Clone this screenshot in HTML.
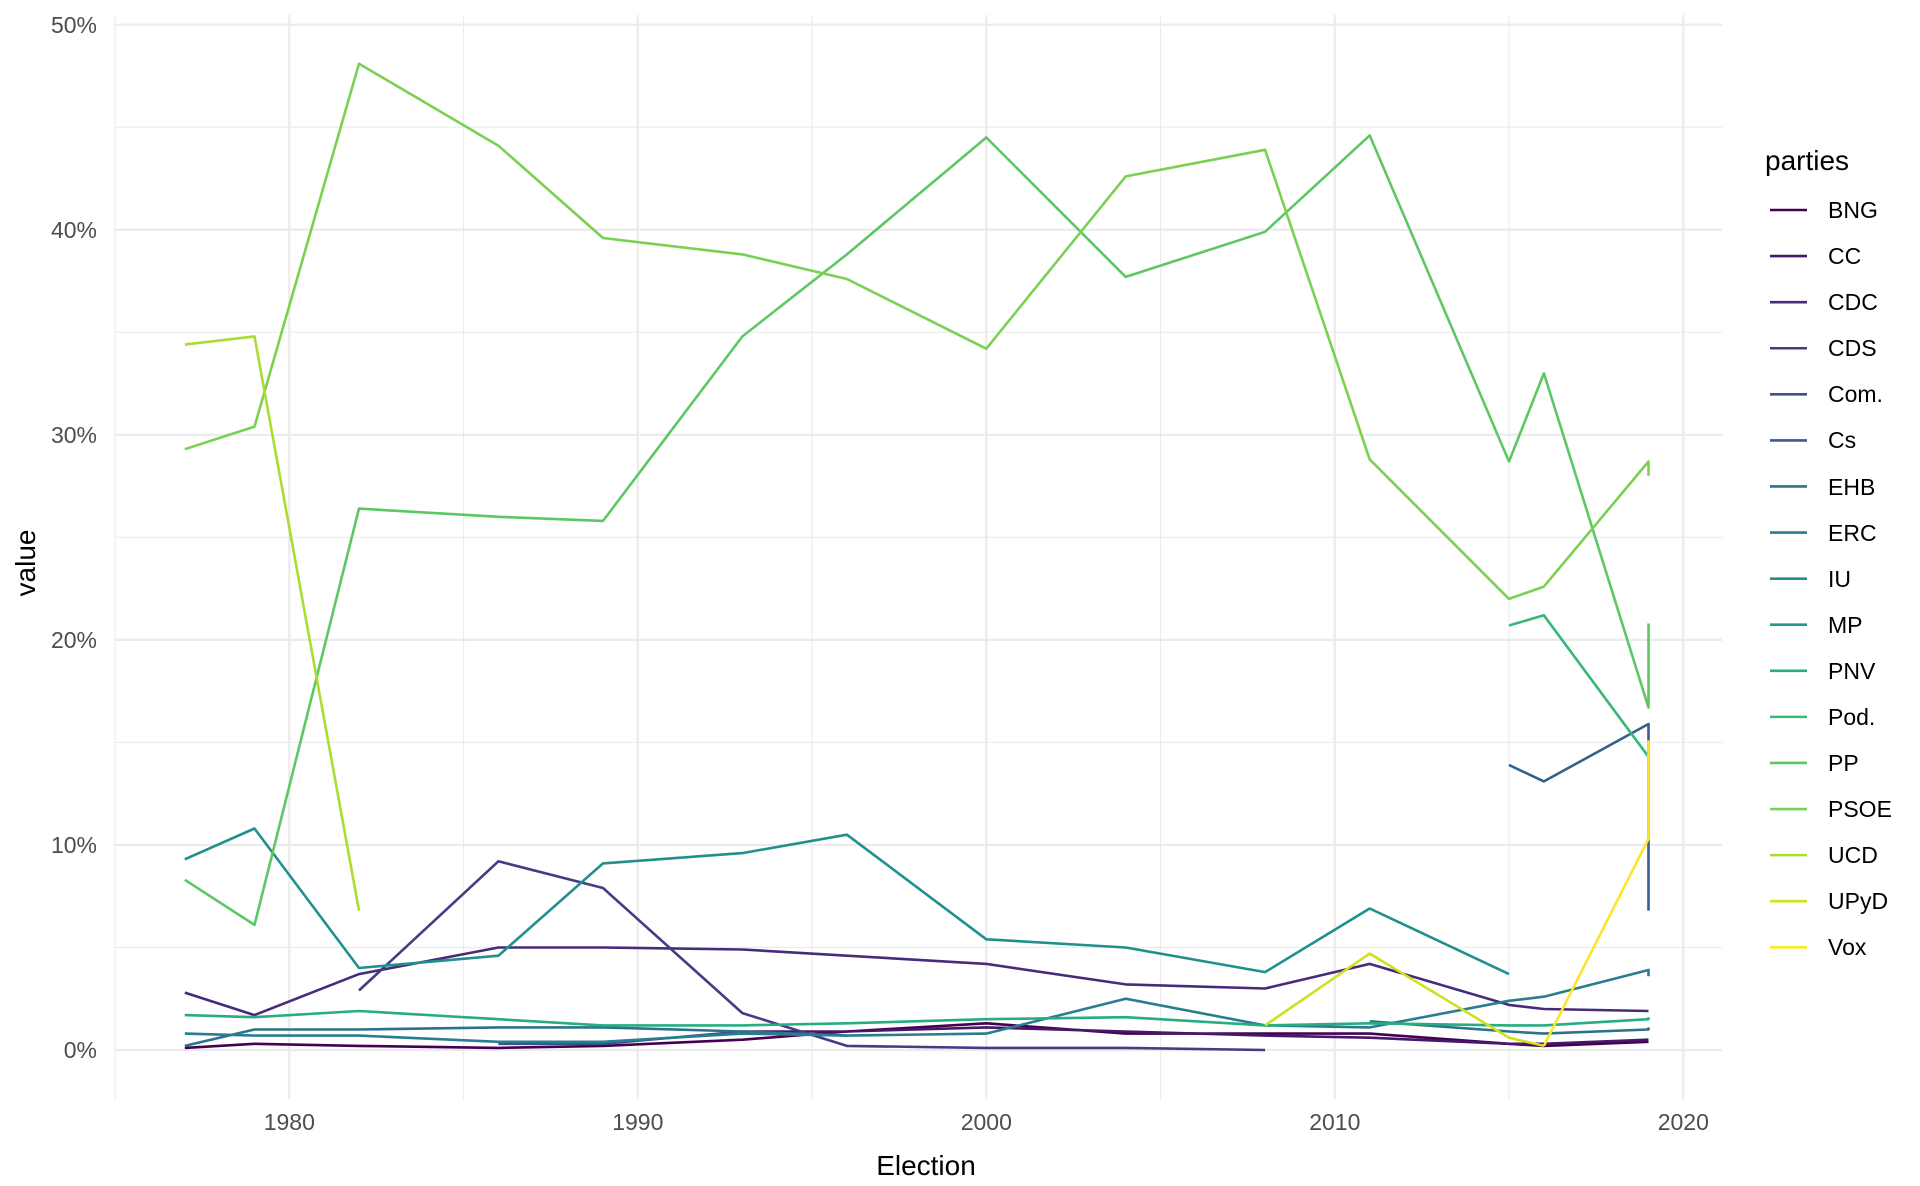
<!DOCTYPE html>
<html><head><meta charset="utf-8"><style>
html,body{margin:0;padding:0;background:#fff;}
svg{display:block;font-family:"Liberation Sans",sans-serif;}
</style></head><body>
<svg id="s" width="1920" height="1186" xmlns="http://www.w3.org/2000/svg">
<rect width="1920" height="1186" fill="#fff"/>
<g id="grid"></g>
<g id="lines" fill="none" stroke-width="2.6" stroke-linejoin="round"></g>
<g font-size="23" fill="#4d4d4d" text-anchor="end">
<text x="97" y="1058">0%</text>
<text x="97" y="853">10%</text>
<text x="97" y="648">20%</text>
<text x="97" y="443">30%</text>
<text x="97" y="238">40%</text>
<text x="97" y="33">50%</text>
</g>
<g font-size="23" fill="#4d4d4d" text-anchor="middle">
<text x="289.3" y="1130">1980</text>
<text x="637.8" y="1130">1990</text>
<text x="986.3" y="1130">2000</text>
<text x="1334.8" y="1130">2010</text>
<text x="1683.3" y="1130">2020</text>
</g>
<text x="926" y="1175" font-size="28" text-anchor="middle" fill="#000">Election</text>
<text transform="translate(35,563) rotate(-90)" font-size="28" text-anchor="middle" fill="#000">value</text>
<text x="1765" y="170" font-size="28" fill="#000">parties</text>
<g id="leg"></g>
<g font-size="23" fill="#000">
<text x="1828" y="218">BNG</text>
<text x="1828" y="264">CC</text>
<text x="1828" y="310">CDC</text>
<text x="1828" y="356">CDS</text>
<text x="1828" y="402">Com.</text>
<text x="1828" y="448">Cs</text>
<text x="1828" y="495">EHB</text>
<text x="1828" y="541">ERC</text>
<text x="1828" y="587">IU</text>
<text x="1828" y="633">MP</text>
<text x="1828" y="679">PNV</text>
<text x="1828" y="725">Pod.</text>
<text x="1828" y="771">PP</text>
<text x="1828" y="817">PSOE</text>
<text x="1828" y="863">UCD</text>
<text x="1828" y="909">UPyD</text>
<text x="1828" y="955">Vox</text>
</g>
</svg>
<script>
var X=function(y){return 289.3+(y-1980)*34.85;};
var Y=function(v){return 1050-v*20.506;};
var NS="http://www.w3.org/2000/svg";
var g=document.getElementById('grid');
function ln(x1,y1,x2,y2,w){var l=document.createElementNS(NS,'line');l.setAttribute('x1',x1);l.setAttribute('y1',y1);l.setAttribute('x2',x2);l.setAttribute('y2',y2);l.setAttribute('stroke','#ebebeb');l.setAttribute('stroke-width',w);g.appendChild(l);}
for(var v=5;v<50;v+=10)ln(114,Y(v),1722,Y(v),1.1);
for(var y=1975;y<=2015;y+=10)ln(X(y),15,X(y),1099,1.1);
for(var v=0;v<=50;v+=10)ln(114,Y(v),1722,Y(v),2.2);
for(var y=1980;y<=2020;y+=10)ln(X(y),15,X(y),1099,2.2);
var cols={BNG:"#440154",CC:"#481769",CDC:"#472A7A",CDS:"#433D84","Com.":"#3B528B",Cs:"#355F8D",EHB:"#2C728E",ERC:"#287D8E",IU:"#21908D",MP:"#1E9B8A",PNV:"#27AD81","Pod.":"#36B877",PP:"#5DC863",PSOE:"#7AD151",UCD:"#AADC32",UPyD:"#D0E11C",Vox:"#FDE725"};
var E=[1977,1979,1982,1986,1989,1993,1996,2000,2004,2008,2011,2015,2016,2019,2019];
var data={
BNG:[[0,13,[0.1,0.3,0.2,0.1,0.2,0.5,0.9,1.3,0.8,0.8,0.8,0.3,0.2,0.4,0.5]]],
CC:[[5,13,[0.9,0.9,1.1,0.9,0.7,0.6,0.3,0.3,0.5,0.5]]],
CDC:[[0,13,[2.8,1.7,3.7,5.0,5.0,4.9,4.6,4.2,3.2,3.0,4.2,2.2,2.0,1.9,2.2]]],
CDS:[[2,9,[2.9,9.2,7.9,1.8,0.2,0.1,0.1,0.0]]],
"Com.":[[3,5,[0.3,0.3,0.9]]],
Cs:[[11,14,[13.9,13.1,15.9,6.8]]],
EHB:[[0,6,[0.2,1.0,1.0,1.1,1.1,0.9,0.7]],[10,14,[1.4,0.9,0.8,1.0,1.1]]],
ERC:[[0,14,[0.8,0.7,0.7,0.4,0.4,0.8,0.7,0.8,2.5,1.2,1.1,2.4,2.6,3.9,3.6]]],
IU:[[0,11,[9.3,10.8,4.0,4.6,9.1,9.6,10.5,5.4,5.0,3.8,6.9,3.7]]],
PNV:[[0,14,[1.7,1.6,1.9,1.5,1.2,1.2,1.3,1.5,1.6,1.2,1.3,1.2,1.2,1.5,1.6]]],
"Pod.":[[11,14,[20.7,21.2,14.3,12.8]]],
PP:[[0,14,[8.3,6.1,26.4,26.0,25.8,34.8,38.8,44.5,37.7,39.9,44.6,28.7,33.0,16.7,20.8]]],
PSOE:[[0,14,[29.3,30.4,48.1,44.1,39.6,38.8,37.6,34.2,42.6,43.9,28.8,22.0,22.6,28.7,28.0]]],
UCD:[[0,2,[34.4,34.8,6.8]]],
UPyD:[[9,12,[1.2,4.7,0.6,0.2]]],
Vox:[[12,14,[0.2,10.3,15.1]]]
};
var L=document.getElementById('lines');
for(var k in data){data[k].forEach(function(s){var pts=[];for(var i=s[0];i<=s[1];i++){pts.push(X(E[i]).toFixed(1)+","+Y(s[2][i-s[0]]).toFixed(1));}
var p=document.createElementNS(NS,'polyline');p.setAttribute('points',pts.join(' '));p.setAttribute('stroke',cols[k]);L.appendChild(p);});}
var lg=document.getElementById('leg');var names=Object.keys(cols);
names.forEach(function(n,i){var y=210+i*46.08;var l=document.createElementNS(NS,'line');l.setAttribute('x1',1770);l.setAttribute('x2',1807);l.setAttribute('y1',y);l.setAttribute('y2',y);l.setAttribute('stroke',cols[n]);l.setAttribute('stroke-width',2.6);lg.appendChild(l);});
</script>
</body></html>
